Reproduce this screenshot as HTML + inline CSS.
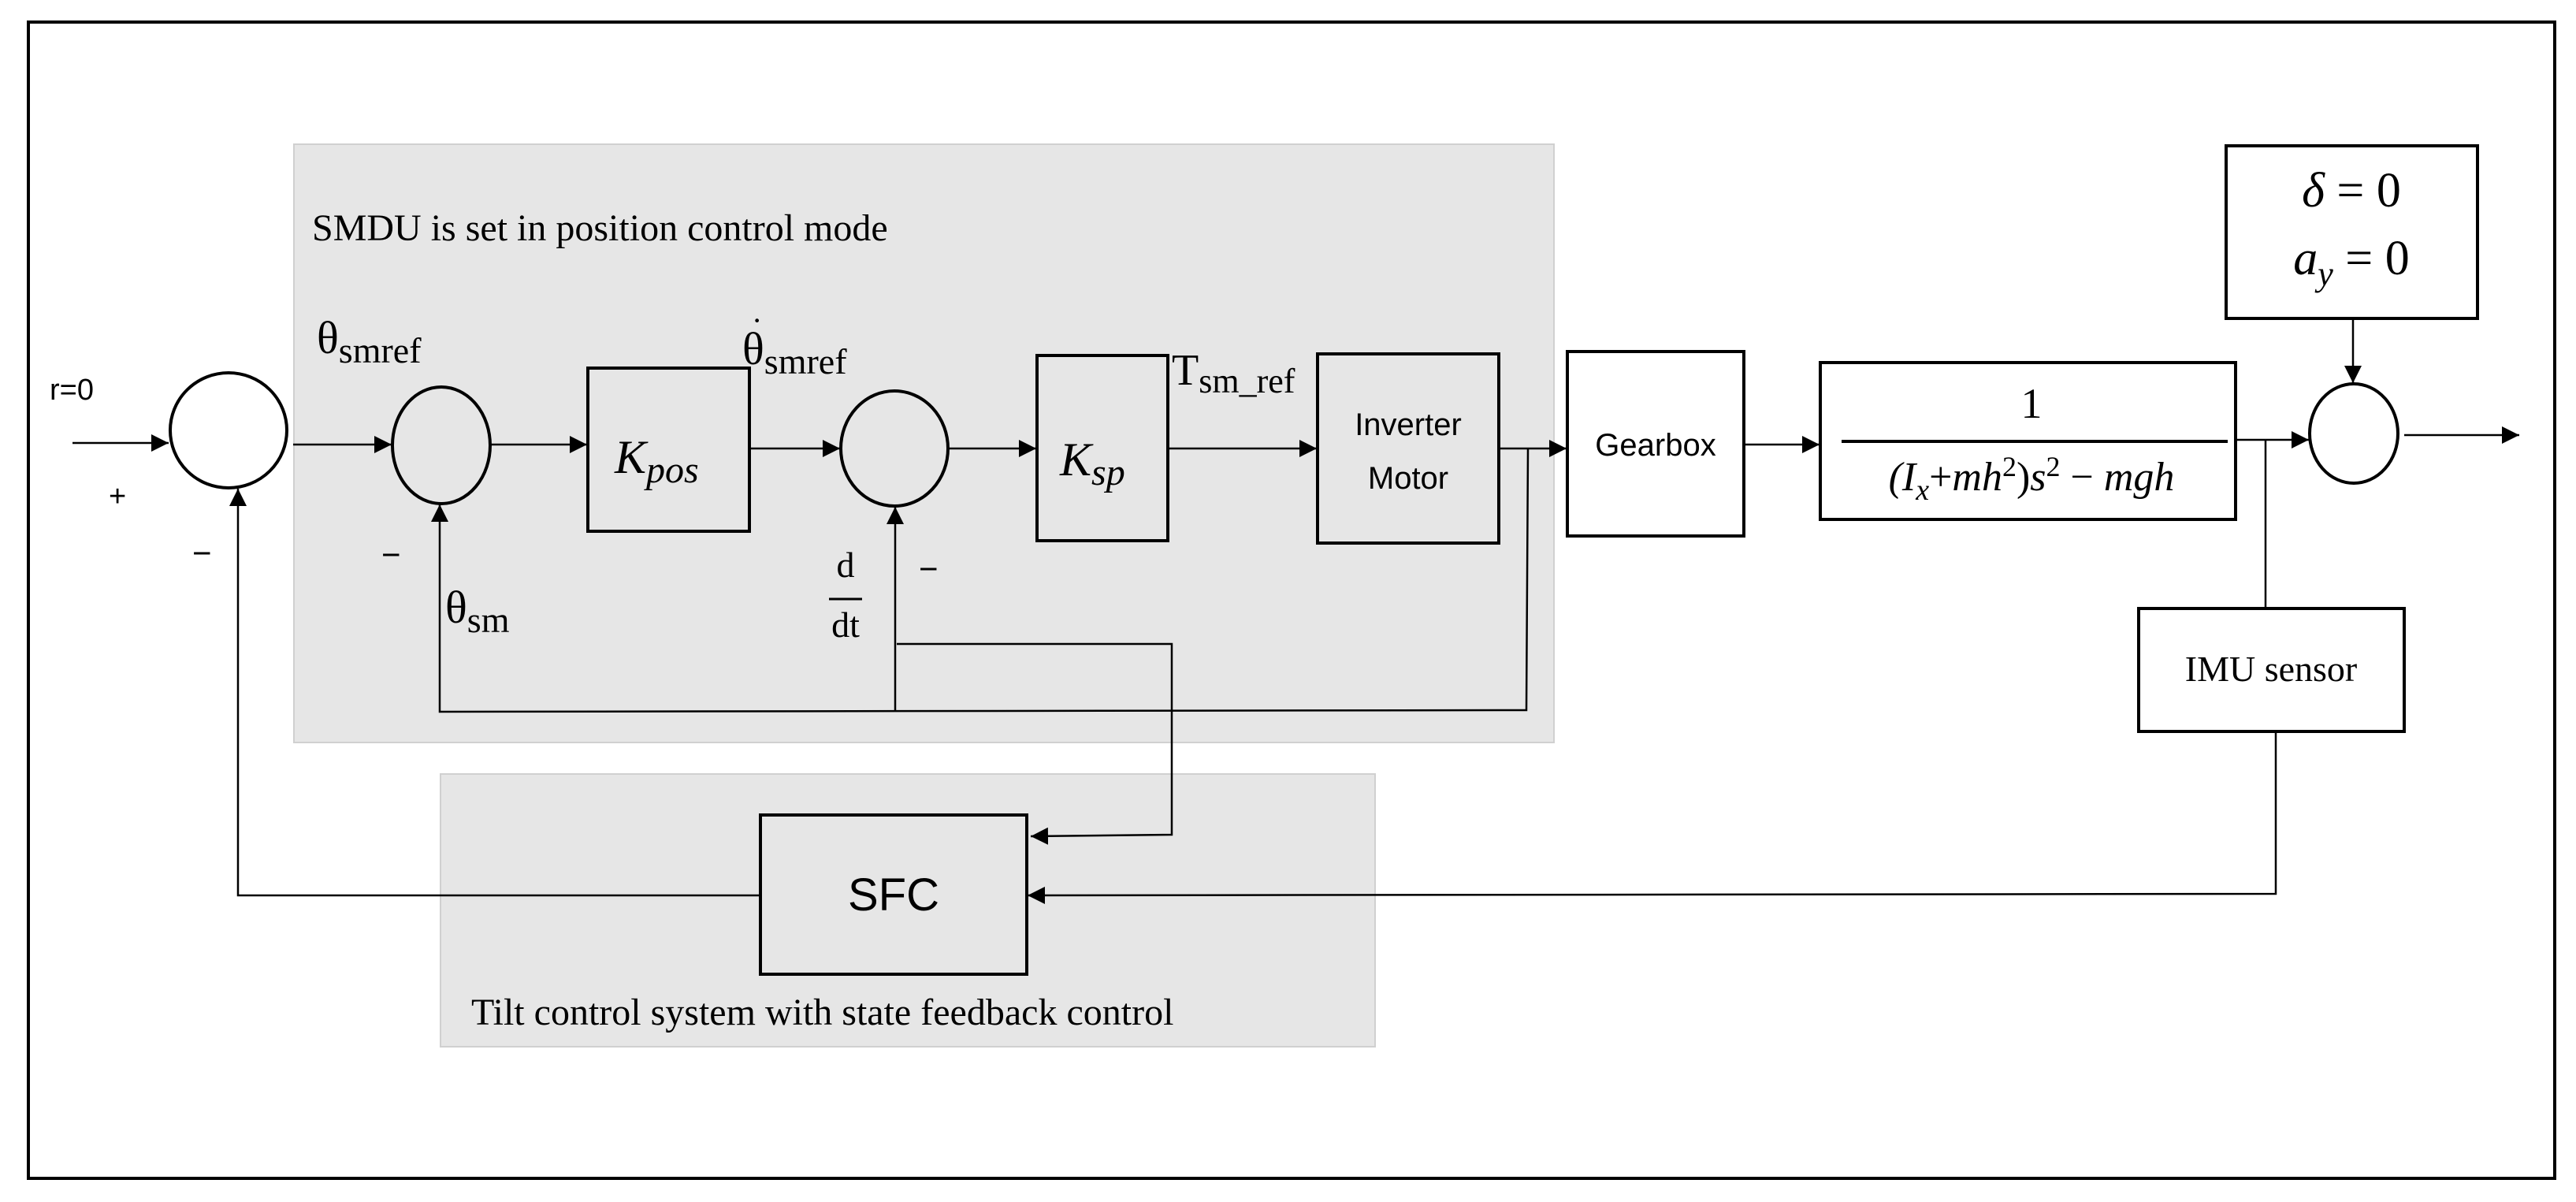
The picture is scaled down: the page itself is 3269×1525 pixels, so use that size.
<!DOCTYPE html>
<html><head><meta charset="utf-8"><style>
html,body{margin:0;padding:0;background:#fff}
svg{display:block}
.serif{font-family:"Liberation Serif","DejaVu Serif",serif}
.sans{font-family:"Liberation Sans","DejaVu Sans",sans-serif}
</style></head><body>
<svg width="3269" height="1525" viewBox="0 0 3269 1525" xmlns="http://www.w3.org/2000/svg">
<defs>
<marker id="a" viewBox="0 0 10 10" refX="10" refY="5" markerWidth="22" markerHeight="22" markerUnits="userSpaceOnUse" orient="auto">
<path d="M0,0 L10,5 L0,10 z" fill="#000"/></marker>
</defs>
<rect x="0" y="0" width="3269" height="1525" fill="#fff"/>
<rect x="36" y="28" width="3206" height="1467" fill="none" stroke="#000" stroke-width="4"/>
<rect x="373" y="183" width="1599" height="759" fill="#e6e6e6" stroke="#d0d0d0" stroke-width="2"/>
<rect x="559" y="982" width="1186" height="346" fill="#e6e6e6" stroke="#d0d0d0" stroke-width="2"/>

<text x="396" y="305" class="serif" font-size="48">SMDU is set in position control mode</text>
<text x="598" y="1300" class="serif" font-size="48">Tilt control system with state feedback control</text>

<g fill="none" stroke="#000" stroke-width="4">
<ellipse cx="290" cy="546" rx="74" ry="73"/>
<ellipse cx="560" cy="565" rx="62" ry="74"/>
<ellipse cx="1135" cy="569" rx="68" ry="73"/>
<ellipse cx="2987" cy="550" rx="56" ry="63"/>
<rect x="746" y="467" width="205" height="207"/>
<rect x="1316" y="451" width="166" height="235"/>
<rect x="1672" y="449" width="230" height="240"/>
<rect x="1989" y="446" width="224" height="234"/>
<rect x="2310" y="460" width="527" height="199"/>
<rect x="2825" y="185" width="319" height="219"/>
<rect x="2714" y="772" width="337" height="156"/>
<rect x="965" y="1034" width="338" height="202"/>
</g>

<g fill="none" stroke="#000" stroke-width="2.5">
<line x1="92" y1="562" x2="214" y2="562" marker-end="url(#a)"/>
<line x1="372" y1="564" x2="497" y2="564" marker-end="url(#a)"/>
<line x1="622" y1="564" x2="745" y2="564" marker-end="url(#a)"/>
<line x1="951" y1="569" x2="1066" y2="569" marker-end="url(#a)"/>
<line x1="1204" y1="569" x2="1315" y2="569" marker-end="url(#a)"/>
<line x1="1482" y1="569" x2="1671" y2="569" marker-end="url(#a)"/>
<line x1="1902" y1="569" x2="1988" y2="569" marker-end="url(#a)"/>
<line x1="2213" y1="564" x2="2309" y2="564" marker-end="url(#a)"/>
<line x1="2837" y1="558" x2="2930" y2="558" marker-end="url(#a)"/>
<line x1="3051" y1="552" x2="3197" y2="552" marker-end="url(#a)"/>
<line x1="2986" y1="404" x2="2986" y2="486" marker-end="url(#a)"/>
<line x1="2875" y1="558" x2="2875" y2="772"/>
<polyline points="2888,928 2888,1134 1304,1136" marker-end="url(#a)"/>
<polyline points="965,1136 302,1136 302,620" marker-end="url(#a)"/>
<polyline points="1939,569 1937,901 558,903 558,640" marker-end="url(#a)"/>
<line x1="1136" y1="903" x2="1136" y2="643" marker-end="url(#a)"/>
<polyline points="1138,817 1487,817 1487,1059 1308,1061" marker-end="url(#a)"/>
</g>

<text x="63" y="507" class="sans" font-size="38">r=0</text>
<text x="138" y="642" class="sans" font-size="38">+</text>
<text x="244" y="716" class="sans" font-size="42">−</text>
<text x="484" y="718" class="sans" font-size="42">−</text>
<text x="1166" y="736" class="sans" font-size="42">−</text>

<text x="402" y="448" class="serif" font-size="58">θ<tspan font-size="46" dy="12">smref</tspan></text>
<text x="565" y="790" class="serif" font-size="58">θ<tspan font-size="46" dy="12">sm</tspan></text>
<text x="942" y="462" class="serif" font-size="58">θ<tspan font-size="46" dy="12">smref</tspan></text>
<text x="954" y="420" class="serif" font-size="40">·</text>
<text x="1487" y="488" class="serif" font-size="56">T<tspan font-size="44" dy="10">sm_ref</tspan></text>

<text x="780" y="600" class="serif" font-size="60" font-style="italic">K<tspan font-size="48" dy="12">pos</tspan></text>
<text x="1345" y="603" class="serif" font-size="60" font-style="italic">K<tspan font-size="48" dy="12">sp</tspan></text>

<text x="1073" y="732" class="serif" font-size="46" text-anchor="middle">d</text>
<line x1="1052" y1="760" x2="1094" y2="760" stroke="#000" stroke-width="3"/>
<text x="1073" y="808" class="serif" font-size="46" text-anchor="middle">dt</text>

<text x="1787" y="552" class="sans" font-size="40" text-anchor="middle">Inverter</text>
<text x="1787" y="620" class="sans" font-size="40" text-anchor="middle">Motor</text>
<text x="2101" y="578" class="sans" font-size="40" text-anchor="middle">Gearbox</text>

<text x="2578" y="530" class="serif" font-size="54" text-anchor="middle">1</text>
<line x1="2337" y1="560" x2="2827" y2="560" stroke="#000" stroke-width="4"/>
<text x="2578" y="622" class="serif" font-size="52" text-anchor="middle" font-style="italic">(I<tspan font-size="38" dy="12">x</tspan><tspan dy="-12" font-style="normal">+</tspan>mh<tspan font-size="36" dy="-18" font-style="normal">2</tspan><tspan dy="18" font-style="normal">)</tspan>s<tspan font-size="36" dy="-18" font-style="normal">2</tspan><tspan dy="18" font-style="normal"> − </tspan>mgh</text>

<text x="2984" y="262" class="serif" font-size="62" text-anchor="middle"><tspan font-style="italic">δ</tspan> = 0</text>
<text x="2984" y="348" class="serif" font-size="62" text-anchor="middle"><tspan font-style="italic">a</tspan><tspan font-style="italic" font-size="44" dy="14">y</tspan><tspan dy="-14"> = 0</tspan></text>

<text x="2882" y="864" class="serif" font-size="46" text-anchor="middle">IMU sensor</text>
<text x="1134" y="1155" class="sans" font-size="58" text-anchor="middle">SFC</text>
</svg>
</body></html>
